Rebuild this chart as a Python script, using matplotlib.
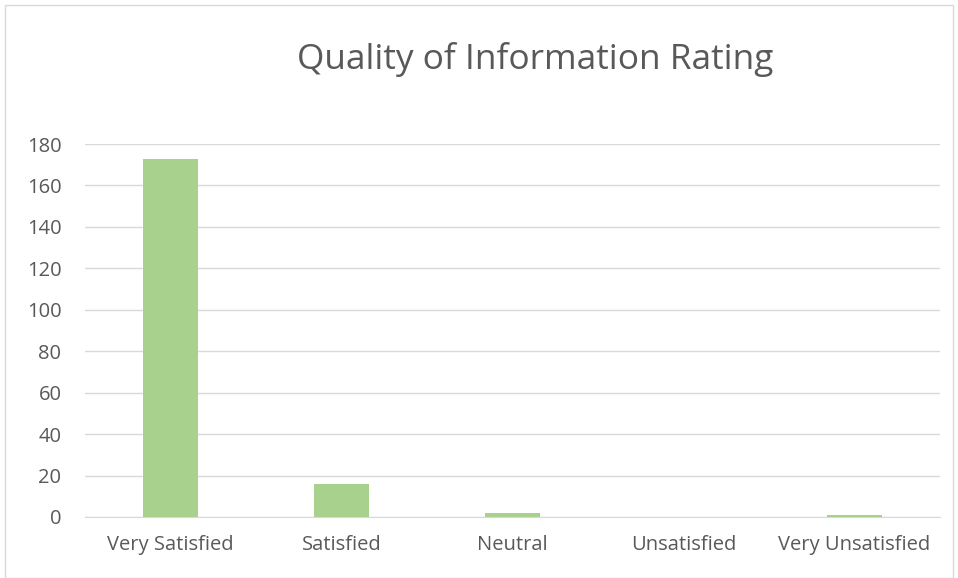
import matplotlib
matplotlib.use('Agg')
import matplotlib.pyplot as plt
from matplotlib.patches import Rectangle

categories = ['Very Satisfied', 'Satisfied', 'Neutral', 'Unsatisfied', 'Very Unsatisfied']
counts = [173, 16, 2, 0, 1]
yticks = list(range(0, 181, 20))

plt.rcParams['font.family'] = ['Open Sans', 'DejaVu Sans']
text_col = '#595959'

fig = plt.figure(figsize=[9.58, 5.78], dpi=100)
ax = fig.add_axes([85/958, 1 - 517/578, 855/958, 373/578])

ax.bar(range(len(categories)), counts, width=0.32, color='#A9D18E', zorder=3)
ax.set_xlim(-0.5, len(categories) - 0.5)
ax.set_ylim(0, 180)
ax.set_yticks(yticks)
ax.set_xticks(range(len(categories)))
ax.set_xticklabels(categories)
ax.grid(axis='y', color='#D9D9D9', linewidth=1, zorder=0)
for s in ['top', 'right', 'left']:
    ax.spines[s].set_visible(False)
ax.spines['bottom'].set_color('#D9D9D9')
ax.tick_params(length=0, colors=text_col, labelsize=14.5)
ax.tick_params(axis='x', pad=13)
ax.tick_params(axis='y', pad=17)

fig.text(535/958, 1 - 69/578, 'Quality of Information Rating', ha='center', va='baseline',
         fontsize=25.4, color=text_col)

# borde del grafico
fig.patches.append(Rectangle((5/958, 0), 948/958, 1 - 5/578, transform=fig.transFigure,
                             fill=False, edgecolor='#D9D9D9', linewidth=1))

fig.savefig('out.png', dpi=100)
